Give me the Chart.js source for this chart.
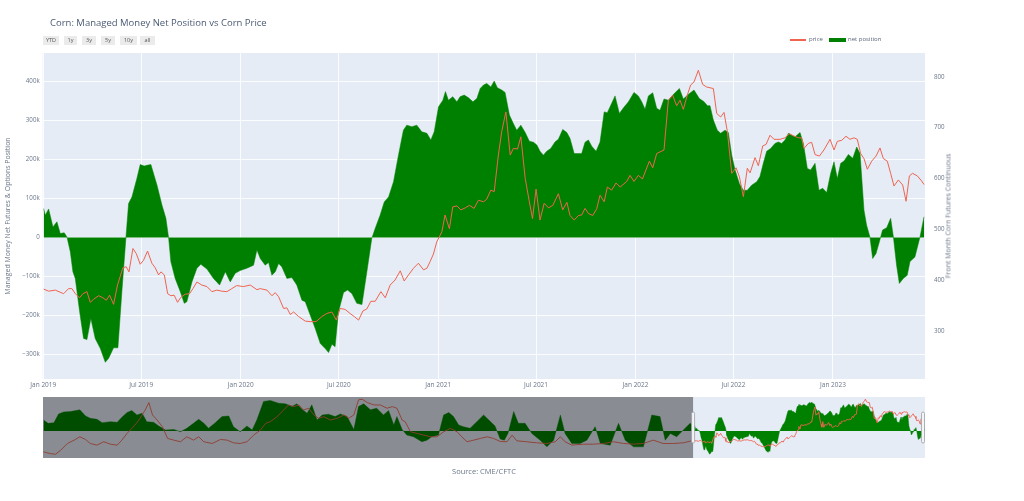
<!DOCTYPE html>
<html lang="en">
<head>
<meta charset="UTF-8">
<title>Corn: Managed Money Net Position vs Corn Price</title>
<script src="https://cdn.jsdelivr.net/npm/chart.js"></script>
<style>
    body {
        margin: 0;
        background: #fff;
        font-family: 'Open Sans', sans-serif;
    }
    .page {
        position: relative;
        width: 1024px;
        height: 501px;
        overflow: hidden;
    }
    #mainChart { position: absolute; left: 0; top: 0; }
    #sliderChart { position: absolute; left: 43px; top: 397px; }
    .title {
        position: absolute;
        left: 50px;
        top: 16px;
        font-size: 9.5px;
        color: #4a5a74;
        white-space: nowrap;
    }
    .btn {
        position: absolute;
        top: 36px;
        height: 9px;
        line-height: 9px;
        background: #ebebeb;
        color: #555;
        font-size: 5.5px;
        text-align: center;
    }
    .legend {
        position: absolute;
        top: 35px;
        font-size: 6px;
        line-height: 9px;
        color: #5a6579;
        white-space: nowrap;
    }
    .swatch {
        position: absolute;
    }
    .axis-title-right {
        position: absolute;
        left: 948px;
        top: 216px;
        transform: translate(-50%, -50%) rotate(-90deg);
        font-size: 7px;
        color: #6b778a;
        white-space: nowrap;
    }
    .source {
        position: absolute;
        left: 484px;
        top: 471px;
        transform: translate(-50%, -50%);
        font-size: 7.5px;
        color: #6b778a;
        white-space: nowrap;
    }
</style>
</head>
<body>
<div class="page">
    <canvas id="mainChart" width="1024" height="501"></canvas>
    <canvas id="sliderChart" width="882" height="61"></canvas>

    <div class="title">Corn: Managed Money Net Position vs Corn Price</div>

    <div class="btn" style="left:43px;width:16px">YTD</div>
    <div class="btn" style="left:64px;width:13px">1y</div>
    <div class="btn" style="left:82px;width:14px">3y</div>
    <div class="btn" style="left:101px;width:14px">5y</div>
    <div class="btn" style="left:120px;width:17px">10y</div>
    <div class="btn" style="left:140px;width:15px">all</div>

    <div class="swatch" style="left:790px;top:39px;width:16px;height:1.5px;background:#ef6450"></div>
    <div class="legend" style="left:809px">price</div>
    <div class="swatch" style="left:829px;top:38px;width:17px;height:3.5px;background:green"></div>
    <div class="legend" style="left:848px">net position</div>

    <div class="axis-title-right">Front Month Corn Futures Continuous</div>
    <div class="source">Source: CME/CFTC</div>
</div>

<script>
// x values are decimal years
const netX = [
    2019.002, 2019.010, 2019.027, 2019.049, 2019.069, 2019.086, 2019.106, 2019.120, 2019.137, 2019.150,
    2019.162, 2019.184, 2019.204, 2019.221, 2019.241, 2019.263, 2019.289, 2019.314, 2019.331, 2019.356,
    2019.378, 2019.398, 2019.419, 2019.432, 2019.449, 2019.474, 2019.491, 2019.511, 2019.525, 2019.545,
    2019.576, 2019.601, 2019.621, 2019.635, 2019.646, 2019.668, 2019.694, 2019.714, 2019.727, 2019.753,
    2019.778, 2019.798, 2019.829, 2019.862, 2019.893, 2019.922, 2019.947, 2019.972, 2019.997, 2020.031,
    2020.065, 2020.082, 2020.099, 2020.124, 2020.141, 2020.158, 2020.175, 2020.192, 2020.208, 2020.234,
    2020.259, 2020.284, 2020.310, 2020.327, 2020.352, 2020.377, 2020.403, 2020.428, 2020.445, 2020.462,
    2020.478, 2020.495, 2020.521, 2020.541, 2020.563, 2020.588, 2020.614, 2020.639, 2020.664, 2020.681,
    2020.706, 2020.727, 2020.749, 2020.774, 2020.799, 2020.824, 2020.841, 2020.867, 2020.892, 2020.917,
    2020.943, 2020.963, 2020.980, 2021.002, 2021.024, 2021.037, 2021.052, 2021.074, 2021.095, 2021.111,
    2021.132, 2021.154, 2021.176, 2021.196, 2021.213, 2021.230, 2021.246, 2021.267, 2021.284, 2021.300,
    2021.322, 2021.339, 2021.361, 2021.381, 2021.398, 2021.419, 2021.441, 2021.462, 2021.483, 2021.500,
    2021.516, 2021.533, 2021.550, 2021.570, 2021.592, 2021.609, 2021.631, 2021.652, 2021.668, 2021.689,
    2021.711, 2021.727, 2021.744, 2021.761, 2021.778, 2021.800, 2021.820, 2021.841, 2021.857, 2021.879,
    2021.896, 2021.918, 2021.938, 2021.964, 2021.992, 2022.014, 2022.031, 2022.048, 2022.065, 2022.087,
    2022.107, 2022.124, 2022.144, 2022.166, 2022.192, 2022.222, 2022.242, 2022.268, 2022.296, 2022.323,
    2022.347, 2022.364, 2022.377, 2022.394, 2022.414, 2022.431, 2022.453, 2022.470, 2022.487, 2022.504,
    2022.526, 2022.546, 2022.566, 2022.588, 2022.614, 2022.630, 2022.647, 2022.664, 2022.684, 2022.706,
    2022.723, 2022.740, 2022.757, 2022.774, 2022.791, 2022.808, 2022.833, 2022.850, 2022.870, 2022.887,
    2022.909, 2022.929, 2022.948, 2022.968, 2022.988, 2023.005, 2023.022, 2023.039, 2023.056, 2023.078,
    2023.100, 2023.120, 2023.137, 2023.157, 2023.170, 2023.187, 2023.201, 2023.218, 2023.235, 2023.251,
    2023.272, 2023.292, 2023.306, 2023.322, 2023.336, 2023.356, 2023.376, 2023.390, 2023.415, 2023.441,
    2023.461
];
// managed money net position, thousands of contracts
const netK = [
    74, 57, 73, 27, 40, 10, 12, 1, -37, -88,
    -105, -190, -259, -262, -208, -259, -285, -320, -310, -283,
    -283, -139, 2, 87, 104, 151, 187, 183, 185, 187,
    134, 83, 49, -2, -62, -105, -139, -169, -165, -114,
    -79, -69, -81, -105, -122, -88, -114, -92, -85, -79,
    -71, -32, -54, -71, -64, -97, -88, -67, -75, -105,
    -103, -122, -161, -165, -199, -233, -272, -285, -295, -274,
    -280, -191, -141, -135, -144, -169, -172, -88, -2, 23,
    57, 91, 104, 143, 211, 275, 288, 284, 288, 271,
    267, 250, 271, 335, 352, 374, 352, 361, 348, 361,
    365, 358, 348, 356, 382, 391, 395, 386, 401, 384,
    378, 372, 314, 292, 275, 288, 269, 247, 244, 237,
    221, 211, 221, 228, 245, 252, 277, 269, 254, 215,
    215, 215, 244, 250, 234, 221, 245, 322, 320, 344,
    363, 318, 332, 348, 372, 363, 348, 329, 363, 371,
    331, 326, 355, 352, 367, 382, 355, 367, 378, 356,
    348, 338, 338, 301, 275, 267, 275, 269, 211, 173,
    138, 121, 121, 134, 143, 156, 190, 221, 228, 241,
    245, 241, 250, 267, 262, 258, 269, 241, 177, 173,
    190, 121, 126, 115, 164, 194, 151, 190, 196, 213,
    203, 232, 215, 70, 32, 1, -54, -41, -11, 19,
    25, 49, 1, -71, -118, -105, -97, -62, -50, 2,
    53
];

const priceX = [
    2019.002, 2019.027, 2019.061, 2019.103, 2019.128, 2019.145, 2019.162, 2019.184, 2019.201, 2019.221,
    2019.238, 2019.255, 2019.280, 2019.302, 2019.319, 2019.336, 2019.356, 2019.376, 2019.403, 2019.420,
    2019.434, 2019.454, 2019.471, 2019.491, 2019.508, 2019.528, 2019.550, 2019.567, 2019.584, 2019.596,
    2019.613, 2019.630, 2019.646, 2019.663, 2019.680, 2019.697, 2019.719, 2019.741, 2019.758, 2019.778,
    2019.803, 2019.829, 2019.854, 2019.879, 2019.904, 2019.930, 2019.955, 2019.980, 2020.014, 2020.048,
    2020.082, 2020.099, 2020.133, 2020.158, 2020.175, 2020.192, 2020.217, 2020.234, 2020.251, 2020.268,
    2020.293, 2020.327, 2020.352, 2020.382, 2020.411, 2020.436, 2020.462, 2020.484, 2020.504, 2020.529,
    2020.554, 2020.575, 2020.597, 2020.619, 2020.639, 2020.659, 2020.681, 2020.710, 2020.732, 2020.757,
    2020.782, 2020.808, 2020.828, 2020.850, 2020.875, 2020.900, 2020.926, 2020.943, 2020.959, 2020.976,
    2020.993, 2021.019, 2021.035, 2021.057, 2021.074, 2021.095, 2021.115, 2021.137, 2021.159, 2021.182,
    2021.204, 2021.230, 2021.246, 2021.267, 2021.284, 2021.305, 2021.322, 2021.343, 2021.365, 2021.381,
    2021.402, 2021.419, 2021.441, 2021.462, 2021.478, 2021.496, 2021.516, 2021.537, 2021.559, 2021.581,
    2021.609, 2021.631, 2021.652, 2021.668, 2021.689, 2021.711, 2021.727, 2021.744, 2021.761, 2021.783,
    2021.803, 2021.820, 2021.841, 2021.857, 2021.879, 2021.901, 2021.922, 2021.955, 2021.972, 2021.992,
    2022.014, 2022.035, 2022.070, 2022.087, 2022.107, 2022.144, 2022.166, 2022.188, 2022.208, 2022.225,
    2022.242, 2022.262, 2022.279, 2022.296, 2022.318, 2022.340, 2022.360, 2022.394, 2022.411, 2022.431,
    2022.448, 2022.465, 2022.487, 2022.509, 2022.526, 2022.546, 2022.566, 2022.580, 2022.605, 2022.622,
    2022.644, 2022.661, 2022.681, 2022.701, 2022.732, 2022.757, 2022.779, 2022.799, 2022.825, 2022.841,
    2022.853, 2022.875, 2022.892, 2022.909, 2022.931, 2022.954, 2022.985, 2023.005, 2023.022, 2023.044,
    2023.066, 2023.086, 2023.106, 2023.123, 2023.140, 2023.157, 2023.174, 2023.196, 2023.218, 2023.238,
    2023.255, 2023.275, 2023.292, 2023.309, 2023.331, 2023.353, 2023.370, 2023.387, 2023.403, 2023.427,
    2023.449, 2023.461
];
// front month corn futures, cents per bushel
const priceC = [
    382, 378, 380, 373, 383, 383, 373, 365, 373, 377,
    356, 362, 369, 365, 360, 370, 352, 390, 424, 426,
    416, 462, 452, 431, 439, 457, 433, 424, 410, 416,
    410, 373, 369, 370, 356, 366, 372, 373, 383, 396,
    390, 387, 377, 380, 378, 377, 383, 389, 387, 390,
    381, 383, 380, 369, 375, 367, 344, 345, 332, 337,
    328, 319, 318, 318, 328, 334, 337, 321, 344, 342,
    334, 328, 321, 339, 343, 358, 358, 377, 365, 390,
    400, 418, 398, 410, 423, 433, 420, 423, 436, 451,
    475, 495, 528, 501, 544, 546, 538, 542, 547, 541,
    557, 554, 559, 577, 574, 646, 692, 731, 646, 659,
    658, 682, 600, 554, 521, 579, 518, 551, 542, 547,
    570, 538, 553, 527, 518, 527, 528, 541, 531, 527,
    540, 567, 554, 583, 577, 591, 583, 594, 606, 594,
    606, 599, 634, 621, 649, 656, 754, 764, 743, 754,
    736, 764, 784, 790, 813, 785, 780, 777, 728, 721,
    730, 692, 610, 621, 603, 564, 620, 611, 641, 625,
    664, 667, 685, 677, 677, 680, 688, 684, 680, 680,
    659, 669, 671, 647, 644, 656, 677, 656, 673, 675,
    683, 677, 680, 677, 649, 639, 618, 634, 644, 660,
    639, 634, 610, 585, 597, 587, 555, 605, 610, 605,
    595, 588
];

// older history, only shown in the range slider
const histNetX = [
    2006.48, 2006.57, 2006.68, 2006.77, 2006.87, 2007.00, 2007.18, 2007.29, 2007.38, 2007.51,
    2007.61, 2007.77, 2007.90, 2007.99, 2008.09, 2008.18, 2008.28, 2008.38, 2008.47, 2008.60,
    2008.70, 2008.83, 2008.99, 2009.12, 2009.24, 2009.37, 2009.47, 2009.57, 2009.66, 2009.79,
    2009.92, 2010.05, 2010.14, 2010.27, 2010.40, 2010.50, 2010.59, 2010.72, 2010.85, 2011.01,
    2011.14, 2011.27, 2011.36, 2011.46, 2011.56, 2011.65, 2011.75, 2011.85, 2011.97, 2012.10,
    2012.20, 2012.33, 2012.46, 2012.55, 2012.65, 2012.78, 2012.90, 2013.03, 2013.13, 2013.23,
    2013.29, 2013.39, 2013.48, 2013.61, 2013.77, 2013.87, 2013.96, 2014.09, 2014.19, 2014.29,
    2014.38, 2014.48, 2014.57, 2014.70, 2014.83, 2014.96, 2015.06, 2015.18, 2015.28, 2015.36,
    2015.43, 2015.54, 2015.63, 2015.76, 2015.89, 2016.05, 2016.18, 2016.31, 2016.44, 2016.53,
    2016.66, 2016.82, 2016.95, 2017.11, 2017.21, 2017.40, 2017.56, 2017.69, 2017.85, 2018.04,
    2018.20, 2018.36, 2018.46, 2018.56, 2018.68, 2018.81, 2018.94
];
const histNetK = [
    154, 107, 116, 237, 265, 270, 293, 209, 177, 163,
    116, 130, 121, 191, 256, 284, 223, 247, 130, 121,
    70, 14, 23, -9, 37, 107, 163, 107, 37, 116,
    200, 209, 61, -9, 70, 14, 154, 410, 424, 386,
    377, 340, 377, 303, 247, 363, 154, 223, 233, 200,
    237, 200, 23, 340, 377, 293, 317, 223, 284, 84,
    200, 23, -56, -79, -149, -126, -79, -56, 223, 256,
    200, 84, 61, 37, 130, 223, 154, 70, -110, -126,
    -33, 270, 107, 107, -33, -126, -219, -126, 223, -33,
    -172, -172, -126, 61, -172, -196, 107, -126, -219, -219,
    223, 200, -126, -33, -79, 14, 107
];
const histPriceX = [
    2006.48, 2006.61, 2006.71, 2006.81, 2006.94, 2007.07, 2007.18, 2007.29, 2007.38, 2007.51,
    2007.64, 2007.77, 2007.90, 2007.99, 2008.09, 2008.18, 2008.27, 2008.34, 2008.44, 2008.51,
    2008.58, 2008.67, 2008.77, 2008.87, 2008.99, 2009.12, 2009.24, 2009.37, 2009.47, 2009.57,
    2009.73, 2009.89, 2010.02, 2010.14, 2010.27, 2010.40, 2010.53, 2010.66, 2010.76, 2010.85,
    2010.98, 2011.11, 2011.20, 2011.30, 2011.40, 2011.49, 2011.59, 2011.69, 2011.78, 2011.88,
    2012.01, 2012.14, 2012.27, 2012.36, 2012.46, 2012.55, 2012.62, 2012.72, 2012.85, 2012.97,
    2013.10, 2013.20, 2013.29, 2013.39, 2013.45, 2013.55, 2013.68, 2013.81, 2013.94, 2014.06,
    2014.19, 2014.32, 2014.45, 2014.54, 2014.64, 2014.77, 2014.90, 2015.03, 2015.15, 2015.28,
    2015.41, 2015.51, 2015.60, 2015.79, 2015.98, 2016.18, 2016.34, 2016.44, 2016.53, 2016.66,
    2016.88, 2017.08, 2017.27, 2017.46, 2017.66, 2017.85, 2018.04, 2018.23, 2018.42, 2018.62,
    2018.81, 2018.97
];
const histPriceC = [
    264, 246, 239, 281, 351, 386, 421, 393, 351, 334,
    369, 344, 334, 386, 456, 508, 561, 613, 700, 777,
    648, 595, 526, 404, 386, 369, 421, 386, 421, 369,
    351, 393, 386, 358, 351, 369, 438, 491, 561, 578,
    630, 700, 752, 735, 752, 700, 718, 648, 613, 630,
    595, 613, 648, 613, 648, 805, 812, 777, 752, 752,
    718, 735, 718, 595, 578, 473, 456, 438, 421, 421,
    473, 508, 473, 421, 369, 386, 404, 421, 404, 372,
    369, 438, 379, 369, 358, 351, 369, 421, 369, 334,
    344, 344, 351, 369, 351, 344, 351, 386, 351, 351,
    358, 379
];

const xTickValues = [2019, 2019.496, 2020, 2020.497, 2021, 2021.496, 2022, 2022.496, 2023];
const xTickLabels = ['Jan 2019', 'Jul 2019', 'Jan 2020', 'Jul 2020', 'Jan 2021', 'Jul 2021', 'Jan 2022', 'Jul 2022', 'Jan 2023'];
const netTicks = [-300000, -200000, -100000, 0, 100000, 200000, 300000, 400000];
const priceTicks = [300, 400, 500, 600, 700, 800];

const viewStart = 2018.997;
const viewEnd = 2023.466;
const historyStart = 2006.47;

const labelColor = '#6b778a';
const plotBg = '#e5ecf6';
const priceColor = '#ef6450';

function toPoints(xs, ys, mult) {
    return xs.map((x, i) => ({ x: x, y: ys[i] * mult }));
}

function fmtK(v) {
    if (v === 0) return '0';
    const s = Math.abs(v / 1000) + 'k';
    return v < 0 ? '\u2212' + s : s;
}

const plotBackground = {
    id: 'plotBackground',
    beforeDraw(chart) {
        const { ctx, chartArea: a } = chart;
        ctx.save();
        ctx.fillStyle = plotBg;
        ctx.fillRect(a.left, a.top, a.right - a.left, a.bottom - a.top);
        ctx.restore();
    }
};

new Chart(document.getElementById('mainChart'), {
    type: 'line',
    data: {
        datasets: [{
            label: 'price',
            data: toPoints(priceX, priceC, 1),
            yAxisID: 'y2',
            borderColor: priceColor,
            borderWidth: 1,
            pointRadius: 0,
            fill: false,
            order: 0
        }, {
            label: 'net position',
            data: toPoints(netX, netK, 1000),
            yAxisID: 'y',
            borderColor: 'green',
            backgroundColor: 'green',
            borderWidth: 0.5,
            pointRadius: 0,
            fill: 'origin',
            order: 1
        }]
    },
    options: {
        responsive: false,
        animation: false,
        layout: { autoPadding: false, padding: { top: 53, right: 67, bottom: 0, left: 0 } },
        plugins: { legend: { display: false }, tooltip: { enabled: false } },
        scales: {
            x: {
                type: 'linear',
                min: viewStart,
                max: viewEnd,
                afterBuildTicks: s => { s.ticks = xTickValues.map(v => ({ value: v })); },
                afterFit: s => { s.height = 122; },
                grid: { color: 'rgba(255,255,255,0.85)', drawTicks: false },
                border: { display: false },
                ticks: {
                    callback: (v, i) => xTickLabels[i],
                    color: labelColor,
                    font: { family: 'Open Sans', size: 6.5 },
                    padding: 2,
                    maxRotation: 0,
                    autoSkip: false
                }
            },
            y: {
                position: 'left',
                min: -363000,
                max: 473000,
                afterBuildTicks: s => { s.ticks = netTicks.map(v => ({ value: v })); },
                afterFit: s => { s.width = 42.7; },
                grid: { color: 'rgba(255,255,255,0.85)', drawTicks: false },
                border: { display: false },
                ticks: {
                    callback: v => fmtK(v),
                    color: labelColor,
                    font: { family: 'Open Sans', size: 6.2 },
                    padding: 3
                },
                title: {
                    display: true,
                    text: 'Managed Money Net Futures & Options Position',
                    color: labelColor,
                    font: { family: 'Open Sans', size: 7 },
                    padding: { top: 4, bottom: 0 }
                }
            },
            y2: {
                position: 'right',
                min: 205,
                max: 847,
                afterBuildTicks: s => { s.ticks = priceTicks.map(v => ({ value: v })); },
                afterFit: s => { s.width = 32; },
                grid: { display: false },
                border: { display: false },
                ticks: {
                    color: labelColor,
                    font: { family: 'Open Sans', size: 6.2 },
                    padding: 1
                }
            }
        }
    },
    plugins: [plotBackground]
});

// range slider: the whole history, masked outside the visible window
const sliderMask = {
    id: 'sliderMask',
    afterDraw(chart) {
        const { ctx, chartArea: a } = chart;
        const xs = chart.scales.x;
        const cut = xs.getPixelForValue(viewStart);
        const end = xs.getPixelForValue(viewEnd);
        ctx.save();
        ctx.fillStyle = 'rgba(0,0,0,0.4)';
        ctx.fillRect(a.left, a.top, cut - a.left, a.bottom - a.top);
        const mid = (a.top + a.bottom) / 2;
        [cut, end - 2].forEach(px => {
            ctx.beginPath();
            ctx.roundRect(px - 1.5, mid - 15.5, 3, 31, 1.5);
            ctx.fillStyle = '#f4f4f4';
            ctx.fill();
            ctx.strokeStyle = '#9aa0aa';
            ctx.lineWidth = 0.8;
            ctx.stroke();
        });
        ctx.restore();
    }
};

new Chart(document.getElementById('sliderChart'), {
    type: 'line',
    data: {
        datasets: [{
            data: toPoints(histPriceX.concat(priceX), histPriceC.concat(priceC), 1),
            yAxisID: 'y2',
            borderColor: priceColor,
            borderWidth: 0.9,
            pointRadius: 0,
            fill: false,
            order: 0
        }, {
            data: toPoints(histNetX.concat(netX), histNetK.concat(netK), 1000),
            yAxisID: 'y',
            borderColor: 'green',
            backgroundColor: 'green',
            borderWidth: 0.4,
            pointRadius: 0,
            fill: 'origin',
            order: 1
        }]
    },
    options: {
        responsive: false,
        animation: false,
        layout: { autoPadding: false, padding: 0 },
        plugins: { legend: { display: false }, tooltip: { enabled: false } },
        scales: {
            x: { type: 'linear', display: false, min: historyStart, max: viewEnd },
            y: { display: false, min: -373000, max: 471000 },
            y2: { display: false, min: 200, max: 835 }
        }
    },
    plugins: [plotBackground, sliderMask]
});
</script>
</body>
</html>
